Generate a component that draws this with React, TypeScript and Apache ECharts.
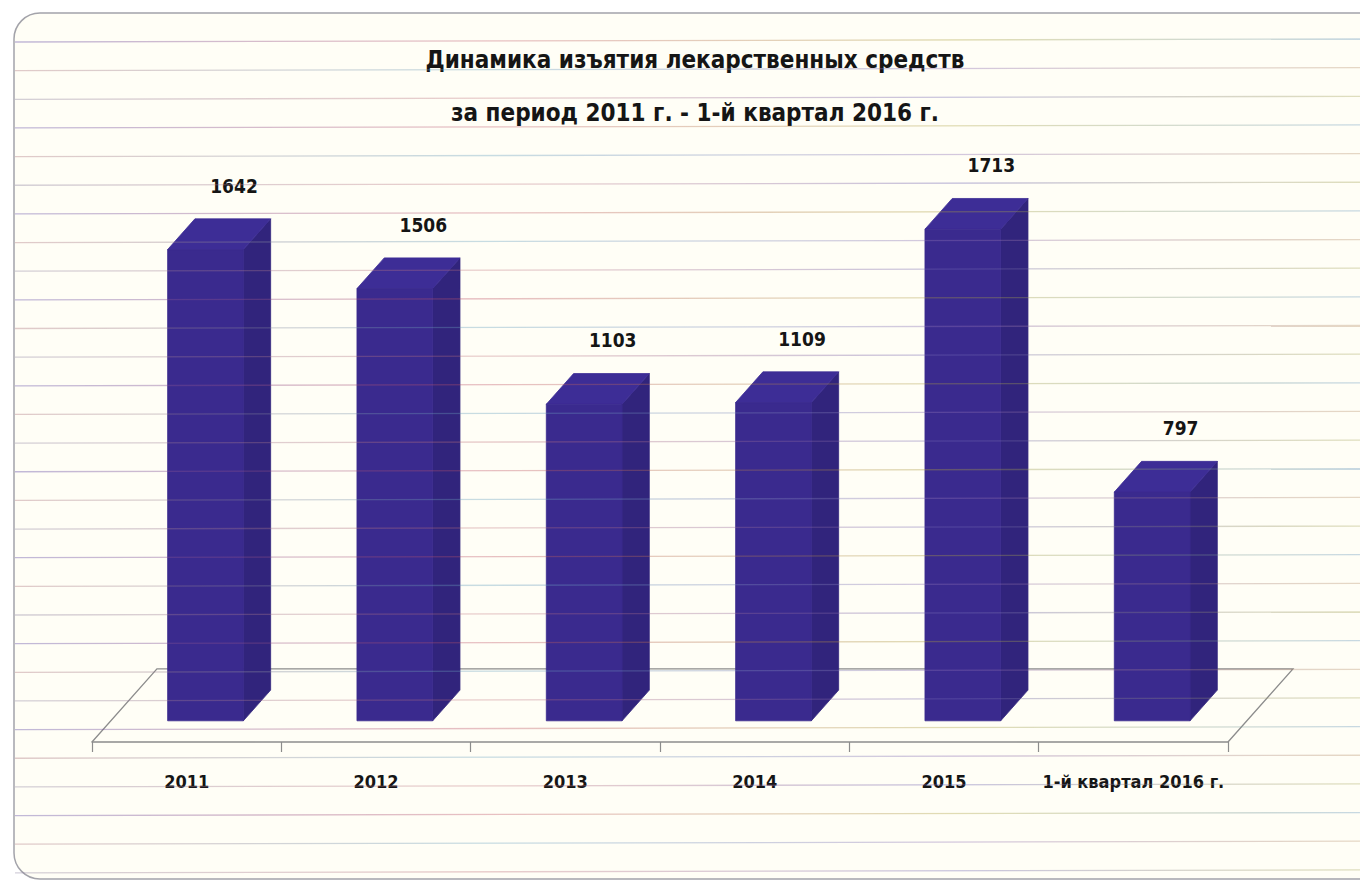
import React, { useEffect, useRef } from 'react';
import * as echarts from 'echarts';

const categories = ['2011', '2012', '2013', '2014', '2015', '1-й квартал 2016 г.'];
const values = [1642, 1506, 1103, 1109, 1713, 797];
const titleLines = ['Динамика изъятия лекарственных средств', 'за период 2011 г. - 1-й квартал 2016 г.'];
const valueMin = 0;
const valueMax = 2000;

const FONT = "'Liberation Sans Narrow', 'Arial Narrow', 'DejaVu Sans Condensed', Roboto, sans-serif";

export default function App() {
  const ref = useRef<HTMLDivElement>(null);
  useEffect(() => {
    document.body.style.margin = '0';
    const chart = echarts.init(ref.current as HTMLDivElement, null, { renderer: 'svg' });
    const W = 1360;
    const H = 885;
    const graphics: any[] = [];
    graphics.push({ type: 'rect', z: -6, silent: true, shape: { x: 0, y: 0, width: W, height: H }, style: { fill: '#ffffff' } });
    graphics.push({
      type: 'rect', z: -5, silent: true,
      shape: { x: 14, y: 13, width: 1420, height: 866, r: 26 },
      style: { fill: '#fffef6', stroke: '#a3a3aa', lineWidth: 1.5 },
    });
    const tints = [
      ['rgba(100,80,170,0.40)', 'rgba(190,80,100,0.36)', 'rgba(170,160,60,0.36)', 'rgba(100,150,190,0.36)'],
      ['rgba(170,110,120,0.36)', 'rgba(100,160,190,0.36)', 'rgba(140,110,180,0.38)', 'rgba(180,140,100,0.34)'],
      ['rgba(140,130,160,0.38)', 'rgba(190,110,120,0.34)', 'rgba(110,100,180,0.38)', 'rgba(160,160,80,0.34)'],
    ];
    for (let k = 0; k < 30; k++) {
      const y = 42 + 28.65 * k;
      const t = tints[k % 3];
      graphics.push({
        type: 'line', z: 10, silent: true,
        shape: { x1: 15, y1: y, x2: W, y2: y - 3 },
        style: {
          stroke: new echarts.graphic.LinearGradient(0, 0, 1, 0, [
            { offset: 0, color: t[0] },
            { offset: 0.35, color: t[1] },
            { offset: 0.7, color: t[2] },
            { offset: 1, color: t[3] },
          ]),
          lineWidth: 1.3,
        },
      });
    }

    const option: any = {
      animation: false,
      backgroundColor: '#ffffff',
      title: {
        text: titleLines.join('\n'),
        left: 690,
        top: 28,
        textAlign: 'center',
        textStyle: { fontFamily: FONT, fontWeight: 'bold', fontSize: 24, lineHeight: 53, color: '#151515' },
      },
      graphic: graphics,
      grid: { left: 92, width: 1136, top: 168, height: 574 },
      xAxis: {
        type: 'category',
        data: categories,
        boundaryGap: true,
        axisLine: { show: true, lineStyle: { color: '#8c8c8c', width: 1.5 } },
        axisTick: { show: true, interval: 0, length: 10, lineStyle: { color: '#8c8c8c', width: 1.2 } },
        axisLabel: { interval: 0, margin: 30, fontFamily: FONT, fontWeight: 'bold', fontSize: 18, color: '#151515' },
        splitLine: { show: false },
      },
      yAxis: {
        type: 'value', min: valueMin, max: valueMax, show: false,
        splitLine: { show: false },
      },
      series: [
        {
          type: 'custom',
          name: 'floor',
          z: 1,
          silent: true,
          data: [[0, 0]],
          encode: { x: 0, y: 1 },
          renderItem: (params: any, api: any) => {
            const cs = params.coordSys;
            const bw = api.size([1, 0])[0];
            const Dx = 0.343 * bw;
            const Dy = -0.386 * bw;
            const y0 = cs.y + cs.height;
            const xl = cs.x;
            const xr = cs.x + cs.width;
            return {
              type: 'polyline',
              shape: { points: [[xl, y0], [xl + Dx, y0 + Dy], [xr + Dx, y0 + Dy], [xr, y0]] },
              style: { stroke: '#8c8c8c', lineWidth: 1.3, fill: 'none' },
            };
          },
        },
        {
          type: 'custom',
          name: 'bars',
          z: 3,
          data: values.map((v, i) => [i, v]),
          encode: { x: 0, y: 1 },
          renderItem: (params: any, api: any) => {
            const idx = api.value(0);
            const v = api.value(1);
            const top = api.coord([idx, v]);
            const base = api.coord([idx, 0]);
            const bw = api.size([1, 0])[0];
            const Dx = 0.343 * bw;
            const Dy = -0.386 * bw;
            const t0 = 0.29;
            const t1 = 0.71;
            const hw = 0.2 * bw;
            const fx0 = top[0] + t0 * Dx - hw;
            const fx1 = top[0] + t0 * Dx + hw;
            const fyTop = top[1] + t0 * Dy;
            const fyBot = base[1] + t0 * Dy;
            const ddx = (t1 - t0) * Dx;
            const ddy = (t1 - t0) * Dy;
            return {
              type: 'group',
              children: [
                {
                  type: 'polygon',
                  shape: { points: [[fx1, fyTop], [fx1 + ddx, fyTop + ddy], [fx1 + ddx, fyBot + ddy], [fx1, fyBot]] },
                  style: { fill: '#31247c', stroke: '#31247c', lineWidth: 0.8 },
                },
                {
                  type: 'polygon',
                  shape: { points: [[fx0, fyTop], [fx0 + ddx, fyTop + ddy], [fx1 + ddx, fyTop + ddy], [fx1, fyTop]] },
                  style: { fill: '#3d2d96', stroke: '#3d2d96', lineWidth: 0.8 },
                },
                {
                  type: 'rect',
                  shape: { x: fx0, y: fyTop, width: 2 * hw, height: fyBot - fyTop },
                  style: { fill: '#3a2a8e', stroke: '#3a2a8e', lineWidth: 0.8 },
                },
                {
                  type: 'text',
                  x: top[0] + 0.25 * bw,
                  y: top[1] - 85,
                  style: {
                    text: String(v),
                    align: 'center',
                    verticalAlign: 'middle',
                    fontFamily: FONT,
                    fontWeight: 'bold',
                    fontSize: 19,
                    fill: '#151515',
                  },
                },
              ],
            };
          },
        },
      ],
    };
    chart.setOption(option);
    return () => chart.dispose();
  }, []);
  return <div ref={ref} style={{ position: 'fixed', left: 0, top: 0, width: 1360, height: 885 }} />;
}
